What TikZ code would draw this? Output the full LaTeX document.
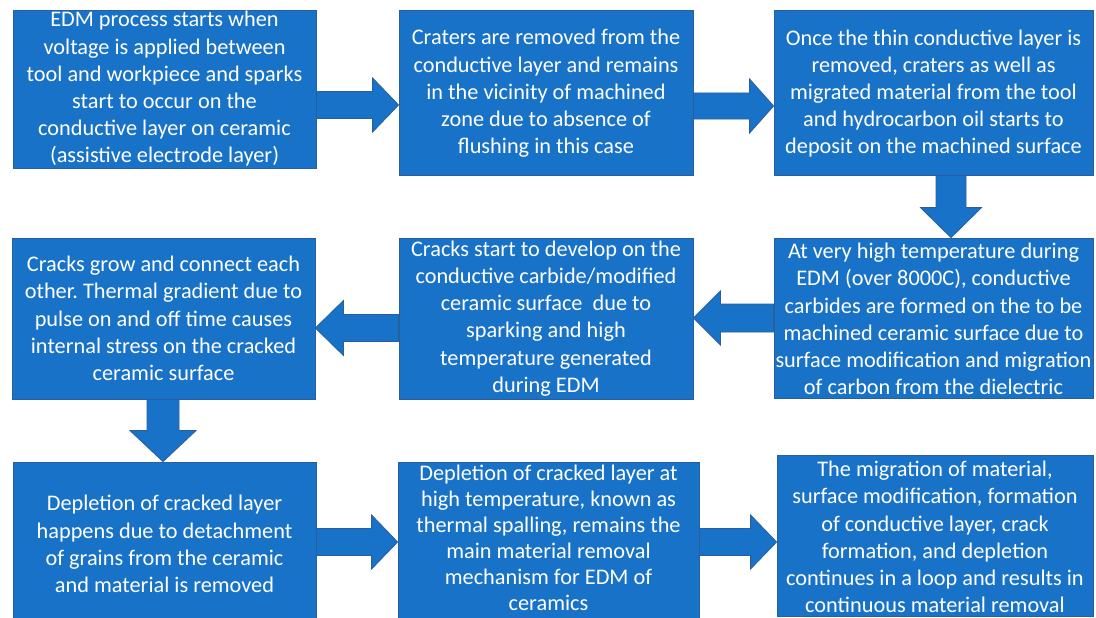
\documentclass[tikz,border=0pt]{standalone}
\usepackage{fontspec}
\setmainfont{Carlito}
\frenchspacing
\usetikzlibrary{calc}
\definecolor{boxblue}{RGB}{24,114,199}
\definecolor{boxedge}{RGB}{42,95,158}
\tikzset{
  box/.style={draw=boxedge, line width=0.8pt, fill=boxblue, rectangle, inner sep=0pt},
  boxtext/.style={text=white, align=center, inner sep=0pt, font=\fontsize{22.3}{27.2}\selectfont},
  arr/.style={draw=boxedge, line width=0.8pt, fill=boxblue, line join=miter}
}
% horizontal block arrow: #1 tail point, #2 tip point, #3 shaft half width, #4 head half width, #5 signed head length
\newcommand\harrow[5]{%
  \path[arr] let \p1=(#1), \p2=(#2), \n1={\x2-(#5)} in
    ({\x1},{\y2+#3}) -- ({\n1},{\y2+#3}) -- ({\n1},{\y2+#4}) -- ({\x2},{\y2})
    -- ({\n1},{\y2-#4}) -- ({\n1},{\y2-#3}) -- ({\x1},{\y2-#3}) -- cycle;}
% vertical (downward) block arrow
\newcommand\varrow[5]{%
  \path[arr] let \p1=(#1), \p2=(#2), \n1={\y2+#5} in
    ({\x2+#3},{\y1}) -- ({\x2+#3},{\n1}) -- ({\x2+#4},{\n1}) -- ({\x2},{\y2})
    -- ({\x2-#4},{\n1}) -- ({\x2-#3},{\n1}) -- ({\x2-#3},{\y1}) -- cycle;}
\begin{document}
\begin{tikzpicture}[x=1pt,y=-1pt]
\fill[white] (0,0) rectangle (1096,618);
\useasboundingbox (0,0) rectangle (1096,618);

\node[box, minimum width=303pt, minimum height=158pt] (b1) at (164.5,89) {};
\node[box, minimum width=294pt, minimum height=165pt] (b2) at (546,92.5) {};
\node[box, minimum width=319pt, minimum height=165pt] (b3) at (933.5,92.5) {};
\node[box, minimum width=319pt, minimum height=160pt] (b4) at (933.5,318) {};
\node[box, minimum width=294pt, minimum height=161pt] (b5) at (546,318.5) {};
\node[box, minimum width=303pt, minimum height=161pt] (b6) at (163.5,318.5) {};
\node[box, minimum width=303pt, minimum height=160pt] (b7) at (164.5,542) {};
\node[box, minimum width=301pt, minimum height=160pt] (b8) at (548.5,542) {};
\node[box, minimum width=316pt, minimum height=161pt] (b9) at (935,535.5) {};

\node[boxtext] (t1) at (b1.center) {EDM process starts when\\voltage is applied between\\tool and workpiece and sparks\\start to occur on the\\conductive layer on ceramic\\(assistive electrode layer)};
\node[boxtext] (t2) at ($(b2.center)+(0,1)$) {Craters are removed from the\\conductive layer and remains\\in the vicinity of machined\\zone due to absence of\\flushing in this case};
\node[boxtext] (t3) at ($(b3.center)+(0,1)$) {Once the thin conductive layer is\\removed, craters as well as\\migrated material from the tool\\and hydrocarbon oil starts to\\deposit on the machined surface};
\node[boxtext] (t4) at ($(b4.center)+(0,1)$) {At very high temperature during\\EDM (over 8000C), conductive\\carbides are formed on the to be\\machined ceramic surface due to\\surface modification and migration\\of carbon from the dielectric};
\node[boxtext] (t5) at (b5.center) {Cracks start to develop on the\\conductive carbide/modified\\ceramic surface\ \ due to\\sparking and high\\temperature generated\\during EDM};
\node[boxtext] (t6) at (b6.center) {Cracks grow and connect each\\other. Thermal gradient due to\\pulse on and off time causes\\internal stress on the cracked\\ceramic surface};
\node[boxtext] (t7) at ($(b7.center)+(0,2)$) {Depletion of cracked layer\\happens due to detachment\\of grains from the ceramic\\and material is removed};
\node[boxtext, font=\fontsize{22.3}{26}\selectfont] (t8) at ($(b8.center)+(0,-4)$) {Depletion of cracked layer at\\high temperature, known as\\thermal spalling, remains the\\main material removal\\mechanism for EDM of\\ceramics};
\node[boxtext] (t9) at ($(b9.center)+(0,1.5)$) {The migration of material,\\surface modification, formation\\of conductive layer, crack\\formation, and depletion\\continues in a loop and results in\\continuous material removal};

\coordinate (a12s) at (b1.east |- 0,105);  \coordinate (a12e) at (b2.west |- 0,105);
\coordinate (a23s) at (b2.east |- 0,106);  \coordinate (a23e) at (b3.west |- 0,106);
\coordinate (a34s) at (b3.south -| 951,0); \coordinate (a34e) at (b4.north -| 951,0);
\coordinate (a45s) at (b4.west |- 0,318);  \coordinate (a45e) at (b5.east |- 0,318);
\coordinate (a56s) at (b5.west |- 0,328);  \coordinate (a56e) at (b6.east |- 0,328);
\coordinate (a67s) at (b6.south -| 163,0); \coordinate (a67e) at (b7.north -| 163,0);
\coordinate (a78s) at (b7.east |- 0,542);  \coordinate (a78e) at (b8.west |- 0,542);
\coordinate (a89s) at (b8.east |- 0,542);  \coordinate (a89e) at (b9.west |- 0,542);

\harrow{a12s}{a12e}{13.5pt}{27pt}{26pt}
\harrow{a23s}{a23e}{13pt}{27pt}{24pt}
\varrow{a34s}{a34e}{15pt}{30.5pt}{30pt}
\harrow{a45s}{a45e}{14pt}{27pt}{-27pt}
\harrow{a56s}{a56e}{13.5pt}{27.5pt}{-28pt}
\varrow{a67s}{a67e}{16pt}{33pt}{31pt}
\harrow{a78s}{a78e}{13.5pt}{27pt}{26pt}
\harrow{a89s}{a89e}{13.5pt}{27pt}{26pt}
\end{tikzpicture}
\end{document}
